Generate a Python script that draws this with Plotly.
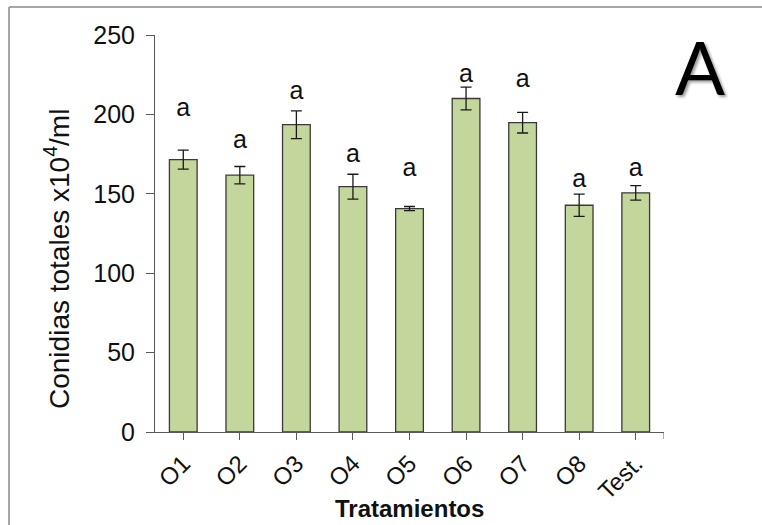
import plotly.graph_objects as go

categories = ["O1", "O2", "O3", "O4", "O5", "O6", "O7", "O8", "Test."]
means = [171.5, 161.7, 193.5, 154.5, 140.7, 210.0, 194.8, 142.8, 150.6]
errors = [6.0, 5.5, 8.7, 7.8, 1.3, 7.2, 6.5, 7.0, 4.6]
letters = ["a", "a", "a", "a", "a", "a", "a", "a", "a"]
letter_y = [202.8, 182.8, 213.7, 173.8, 165.4, 224.2, 221.0, 158.0, 165.4]
y_title = "Conidias totales x10<sup>4</sup>/ml"
x_title = "<b>Tratamientos</b>"

W, H = 762, 525
ML, MR, MT, MB = 155, 98, 35, 93
PW, PH = W - ML - MR, H - MT - MB

axis_col = "#595959"
font_main = "Liberation Sans, Arial, sans-serif"

fig = go.Figure()
fig.add_trace(go.Bar(
    x=categories, y=means,
    marker=dict(color="#c3d69b", line=dict(color="#3a3a3a", width=1.3)),
    error_y=dict(type="data", array=errors, visible=True,
                 color="#1a1a1a", thickness=1.3, width=5.5),
    width=0.49,
    showlegend=False,
))
fig.add_trace(go.Scatter(
    x=categories, y=letter_y, text=letters, mode="text",
    textfont=dict(family=font_main, size=25, color="#111111"),
    textposition="middle center", showlegend=False, hoverinfo="skip",
))

# frame lines (top and left) in paper coords
fx = (9 - ML) / PW
ftop = (H - MB - 7) / PH
fig.add_shape(type="line", xref="paper", yref="paper",
              x0=fx, x1=(W - ML) / PW, y0=ftop, y1=ftop,
              line=dict(color="#a6a6a6", width=2))
fig.add_shape(type="line", xref="paper", yref="paper",
              x0=fx, x1=fx, y0=ftop, y1=-MB / PH,
              line=dict(color="#a6a6a6", width=2))
# end tick at the right end of x-axis
fig.add_shape(type="line", xref="x", yref="paper",
              x0=len(categories) - 0.5, x1=len(categories) - 0.5,
              y0=0, y1=-7 / PH, line=dict(color=axis_col, width=1))

fig.add_annotation(text="A", xref="paper", yref="paper",
                   x=(700 - ML) / PW, y=(H - MB - 66) / PH,
                   showarrow=False, xanchor="center", yanchor="middle",
                   font=dict(family="Lato, sans-serif", size=74, color="#000000",
                             shadow="2px 2px 3px #9a9a9a"))

# axis titles
fig.add_annotation(text=y_title, xref="paper", yref="paper",
                   x=(57 - ML) / PW, y=(H - MB - 259) / PH, textangle=-90,
                   showarrow=False, xanchor="center", yanchor="middle",
                   font=dict(family=font_main, size=28, color="#111111"))
fig.add_annotation(text=x_title, xref="paper", yref="paper",
                   x=0.5, y=(H - MB - 508) / PH,
                   showarrow=False, xanchor="center", yanchor="middle",
                   font=dict(family=font_main, size=24, color="#111111"))

fig.update_layout(
    width=W, height=H,
    margin=dict(l=ML, r=MR, t=MT, b=MB, autoexpand=False),
    paper_bgcolor="white", plot_bgcolor="white",
    bargap=0.51,
    font=dict(family=font_main, size=23, color="#111111"),
    xaxis=dict(
        range=[-0.5, len(categories) - 0.5], automargin=False,
        showline=True, linecolor=axis_col, linewidth=1,
        ticks="outside", ticklen=7, tickcolor=axis_col, tickwidth=1,
        tickangle=-45, tickfont=dict(size=24),
        showgrid=False, zeroline=False,
    ),
    yaxis=dict(
        range=[0, 250], tickvals=[0, 50, 100, 150, 200, 250], automargin=False,
        showline=True, linecolor=axis_col, linewidth=1,
        ticks="outside", ticklen=8, tickcolor=axis_col, tickwidth=1,
        tickfont=dict(size=25), ticklabelstandoff=6,
        showgrid=False, zeroline=False,
    ),
)

fig.write_html("out.html", config={"displayModeBar": False},
               post_script="document.body.style.margin='0';")
